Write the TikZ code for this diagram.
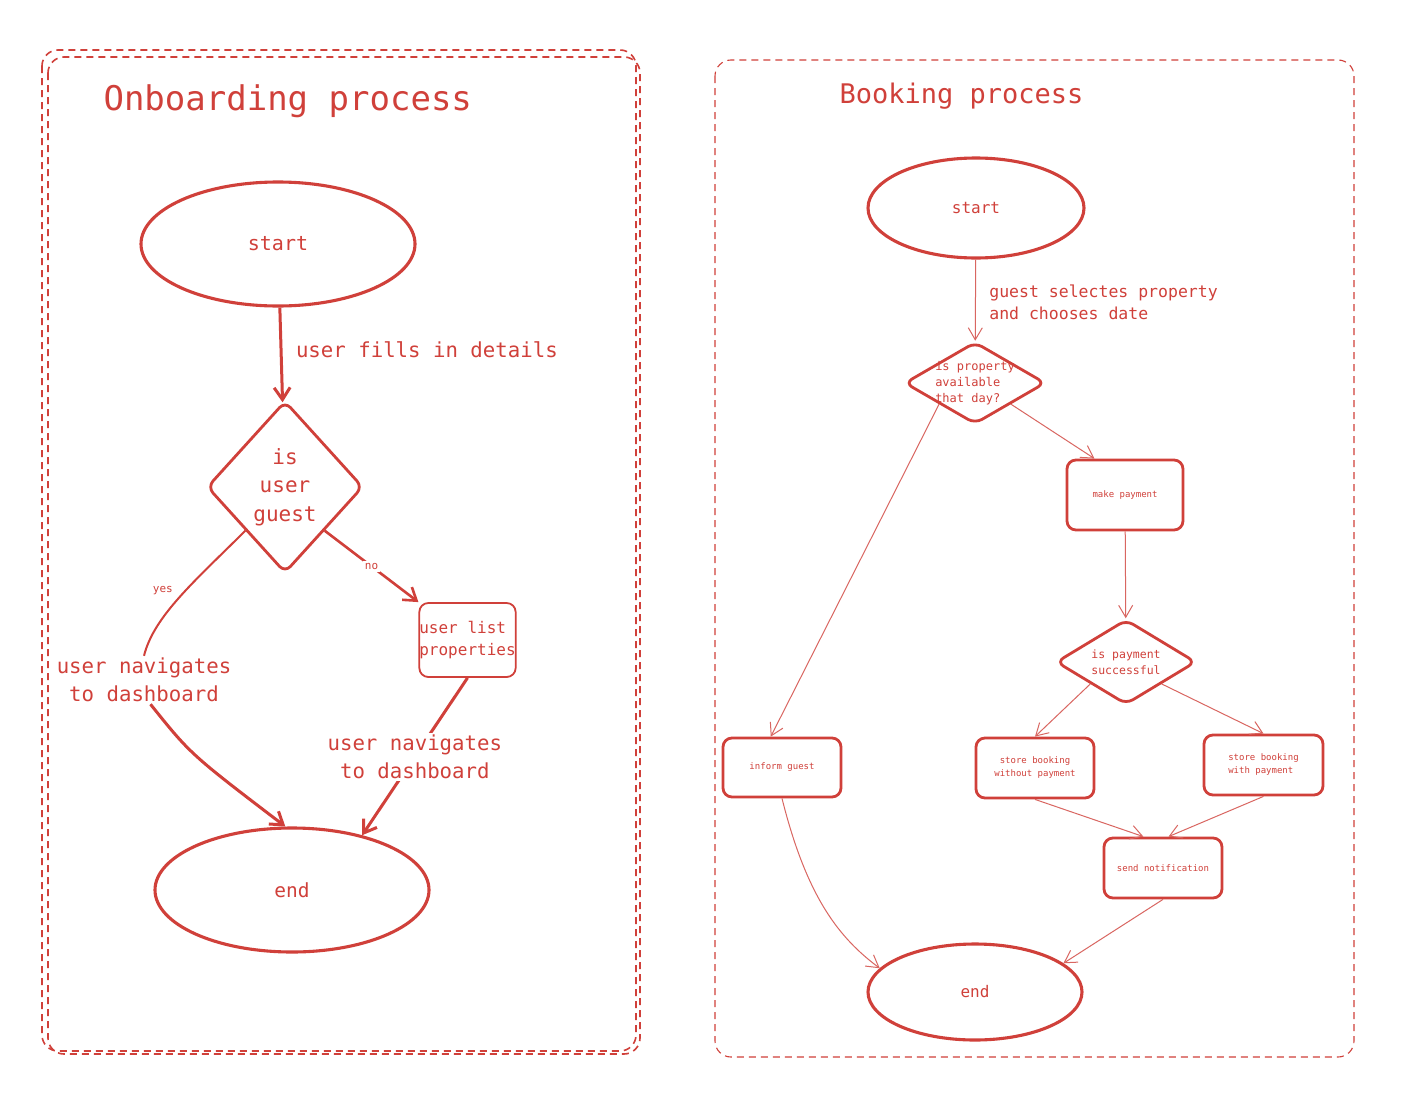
\documentclass[tikz,border=0pt]{standalone}
\usepackage{fontspec}
\setmainfont{DejaVu Sans Mono}
\usepackage{xcolor}
\usetikzlibrary{calc,positioning,arrows.meta,shapes}
\definecolor{sketch}{RGB}{208,64,58}

\begin{document}
\begin{tikzpicture}[x=1pt,y=-1pt]
\tikzstyle{frame}=[draw=sketch, dash pattern=on 7pt off 5pt, rounded corners=16pt, line width=1.6pt]
\tikzstyle{term}=[draw=sketch, ellipse, line width=3.1pt, text=sketch, inner sep=0pt]
\tikzstyle{dec}=[draw=sketch, diamond, line width=2.8pt, rounded corners=8pt, text=sketch, inner sep=0pt]
\tikzstyle{act}=[draw=sketch, rectangle, rounded corners=9pt, line width=2.8pt, text=sketch, inner sep=0pt, minimum width=118pt, minimum height=60pt, font=\fontsize{9}{13}\selectfont]
\tikzstyle{lbl}=[text=sketch, fill=white, inner sep=2pt]
\tikzstyle{flow}=[draw=sketch, line width=3pt, -{Straight Barb[length=12pt,width=16pt]}]
\tikzstyle{link}=[draw=sketch!80, line width=1pt, -{Straight Barb[length=12pt,width=14pt]}]

\useasboundingbox[fill=white] (0,0) rectangle (1414,1100);

% onboarding
\draw[frame] (42,50) rectangle (636,1051);
\draw[frame] (48,57) rectangle (640,1054);
\node[text=sketch, font=\fontsize{34}{40}\selectfont, anchor=west] (titleL) at (100,101) {Onboarding process};

\node[term, minimum width=274pt, minimum height=124pt, font=\fontsize{20}{24}\selectfont] (startL) at (278,244) {start};
\node[dec, minimum width=156pt, minimum height=172pt, align=center, font=\fontsize{21}{28.5}\selectfont] (guest) at (285,487) {is\\user\\guest};
\node[act, minimum width=95pt, minimum height=74pt, line width=1.8pt, align=left, font=\fontsize{16}{22}\selectfont] (props) at (467.5,640) {user list\\properties};
\node[lbl, align=center, font=\fontsize{20.7}{28}\selectfont] (navL) at (144,680) {user navigates\\to dashboard};
\node[term, minimum width=274pt, minimum height=124pt, font=\fontsize{19.5}{24}\selectfont] (endL) at (292,890) {end};

\draw[flow] (startL) -- node[anchor=west, xshift=10pt, yshift=5pt, text=sketch, font=\fontsize{20.7}{26}\selectfont] {user fills in details} (guest);
\draw[draw=sketch, line width=2pt] (guest.south west) .. controls +(-50,50) and +(10,-40) .. node[pos=0.45, anchor=east, xshift=-8pt, text=sketch, font=\fontsize{11}{13}\selectfont] {yes} (navL.north);
\draw[flow] (navL.-75) .. controls +(40,50) .. (endL.96);
\draw[flow, line width=2.6pt] (guest.south east) -- node[lbl, font=\fontsize{11}{13}\selectfont] {no} (props.north west);
\draw[flow] (props.south) -- node[lbl, align=center, font=\fontsize{20.7}{28}\selectfont] (navR) {user navigates\\to dashboard} (endL.38);

% booking
\draw[frame, line width=1.1pt] (715,60) rectangle (1354,1057);
\node[text=sketch, font=\fontsize{27}{32}\selectfont, anchor=west] (titleR) at (836,96) {Booking process};

\node[term, minimum width=216pt, minimum height=100pt, font=\fontsize{16}{20}\selectfont] (startR) at (976,208) {start};
\node[dec, minimum width=141pt, minimum height=82pt, label={[text=sketch, align=left, font=\fontsize{12}{16}\selectfont]center:{is property\\available\\that day?}}] (avail) at (975,383) {};
\node[act, minimum width=116pt, minimum height=70pt] (pay) at (1125,495) {make payment};
\node[dec, minimum width=140pt, minimum height=85pt, shape aspect=1.6, align=center, font=\fontsize{11.5}{16}\selectfont] (paid) at (1126,662) {is payment\\successful};
\node[act, minimum height=59pt] (inform) at (782,767.5) {inform guest};
\node[act, align=center] (storeNo) at (1035,768) {store booking\\without payment};
\node[act, align=left, minimum width=119pt] (storeYes) at (1263.5,765) {store booking\\with payment};
\node[act] (send) at (1163,868) {send notification};
\node[term, minimum width=214pt, minimum height=96pt, font=\fontsize{16}{20}\selectfont] (endR) at (975,992) {end};

\draw[link] (startR) -- node[anchor=west, xshift=10pt, yshift=-2pt, align=left, text=sketch, font=\fontsize{16.5}{22}\selectfont] {guest selectes property\\and chooses date} (avail);
\draw[link] (avail.south east) -- (pay.130);
\draw[link] (avail.south west) -- (inform.110);
\draw[link] (pay) -- (paid);
\draw[link] (paid.south west) -- (storeNo.north);
\draw[link] (paid.south east) -- (storeYes.north);
\draw[link] (storeNo.south) -- (send.122);
\draw[link] (storeYes.south) -- (send.80);
\draw[link] (send.south) -- (endR.18);
\draw[link] (inform.south) .. controls +(25,100) and +(-40,-30) .. (endR.166);
\end{tikzpicture}
\end{document}
